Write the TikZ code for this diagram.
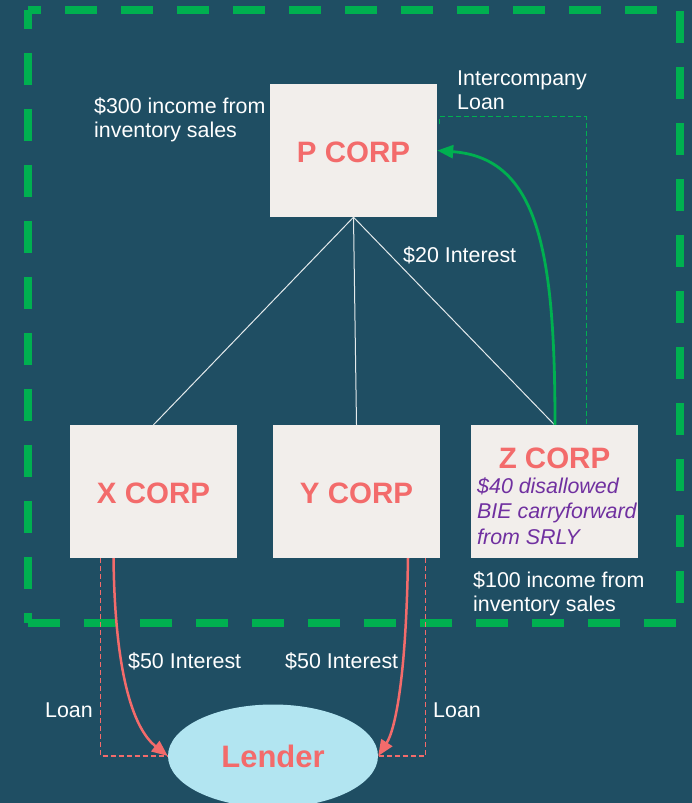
\documentclass[tikz,border=0pt]{standalone}
\usepackage{fontspec}
\setmainfont{Liberation Sans}
\usetikzlibrary{arrows.meta,shapes.geometric,calc}

\definecolor{bgblue}{HTML}{1F4E63}
\definecolor{boxfill}{HTML}{F2EEEB}
\definecolor{salmon}{HTML}{F36B6B}
\definecolor{groupgreen}{HTML}{00B050}
\definecolor{bieviolet}{HTML}{7030A0}
\definecolor{lenderfill}{HTML}{B2E5F1}

\tikzset{
  corpbox/.style={rectangle, fill=boxfill, draw=none, inner sep=0pt,
    minimum width=167pt, minimum height=133pt, text height=24pt, text depth=0pt,
    font=\fontsize{29.5}{32}\selectfont\bfseries, text=salmon},
  lenderoval/.style={ellipse, fill=lenderfill, draw=none, inner sep=0pt,
    minimum width=210pt, minimum height=103pt,
    font=\fontsize{31}{34}\selectfont\bfseries, text=salmon},
  note/.style={anchor=base west, inner sep=0pt, text=white,
    font=\fontsize{21.4}{25}\selectfont},
  bienote/.style={anchor=base west, inner sep=0pt, text=bieviolet,
    font=\fontsize{21.4}{25}\selectfont\itshape},
  ownerline/.style={draw=white!88!bgblue, line width=1pt},
  groupedge/.style={draw=groupgreen, line width=8pt, line cap=butt,
    dash pattern=on 32pt off 24pt},
  loanline/.style={draw=salmon, line width=1.4pt, dash pattern=on 5pt off 3pt},
  icloanline/.style={draw=groupgreen, line width=1.3pt, dash pattern=on 5pt off 3pt},
  redflow/.style={draw=salmon, line width=2.5pt,
    -{Triangle[length=16pt,width=13pt]}},
  greenflow/.style={draw=groupgreen, line width=2.8pt,
    -{Triangle[length=16pt,width=13pt]}},
}

\begin{document}
\begin{tikzpicture}[x=1pt,y=-1pt]
\useasboundingbox (0,0) rectangle (692,803);
\fill[bgblue] (0,0) rectangle (692,803);
\clip (0,0) rectangle (692,803);

% consolidated group boundary
\coordinate (gtl) at (28,10);
\coordinate (gtr) at (680,10);
\coordinate (gbl) at (28,623);
\coordinate (gbr) at (680,623);
\draw[groupedge, dash phase=19pt] (gtl) -- (gtr);
\draw[groupedge, dash phase=13pt] (gtl) -- (gbl);
\draw[groupedge, dash phase=55pt] (gtr) -- (gbr);
\draw[groupedge, dash phase=0pt] (gbl) -- (gbr);

% entities
\node[corpbox] (pc) at (353.5,150.5) {P CORP};
\node[corpbox] (xc) at (153.5,491.5) {X CORP};
\node[corpbox] (yc) at (356.5,491.5) {Y CORP};
\node[corpbox] (zc) at (554.5,491.5) {};
\node[lenderoval] (lender) at (273,756) {Lender};

% Z CORP contents
\node[anchor=base, inner sep=0pt, text=salmon,
  font=\fontsize{29.5}{32}\selectfont\bfseries] (ztitle) at (554.5,468) {Z CORP};
\node[bienote] (bie1) at (477,493) {\$40 disallowed};
\node[bienote] (bie2) at (477,518.5) {BIE carryforward};
\node[bienote] (bie3) at (477,544) {from SRLY};

% ownership lines
\draw[ownerline] (pc.south) -- (xc.north);
\draw[ownerline] (pc.south) -- (yc.north);
\draw[ownerline] (pc.south) -- (zc.north);

% intercompany loan and interest
\draw[icloanline] ($(pc.north east)+(2,40)$) -- ($(pc.north east)+(2,33)$)
  -| ($(zc.north)+(32,0)$);
\draw[greenflow] ($(zc.north)+(0.5,0)$)
  .. controls (555,250) and (538,158) .. (pc.east);

% external loans and interest
\draw[loanline] ($(xc.south west)+(30.5,0)$) |- (lender.west);
\draw[loanline] ($(yc.south east)+(-14.5,0)$) |- (lender.east);
\draw[redflow] ($(xc.south)+(-40,0)$)
  .. controls (115,680) and (135,730) .. (lender.west);
\draw[redflow] ($(yc.south)+(51.5,0)$)
  .. controls (406,680) and (395,730) .. (lender.east);

% labels
\node[note] (inc300a) at (94,113) {\$300 income from};
\node[note] (inc300b) at (94,137) {inventory sales};
\node[note] (icla) at (457,85) {Intercompany};
\node[note] (iclb) at (457,109) {Loan};
\node[note] (int20) at (403,262) {\$20 Interest};
\node[note] (inc100a) at (473,587) {\$100 income from};
\node[note] (inc100b) at (473,611) {inventory sales};
\node[note] (int50x) at (128,668) {\$50 Interest};
\node[note] (int50y) at (285,668) {\$50 Interest};
\node[note] (loanx) at (45,717) {Loan};
\node[note] (loany) at (433,717) {Loan};
\end{tikzpicture}
\end{document}
